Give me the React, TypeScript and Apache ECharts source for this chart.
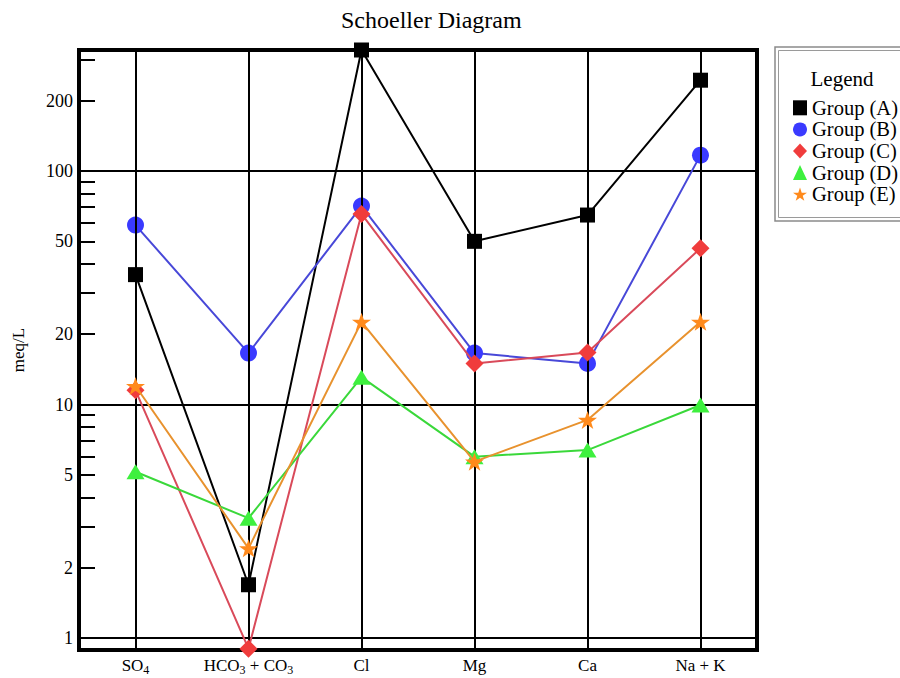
import React, { useEffect, useRef } from 'react';
import * as echarts from 'echarts';

const categories = ['SO4', 'HCO3 + CO3', 'Cl', 'Mg', 'Ca', 'Na + K'];
const seriesNames = ['Group (A)', 'Group (B)', 'Group (C)', 'Group (D)', 'Group (E)'];
const groupA = [36, 1.69, 330, 50, 64.8, 245];
const groupB = [58.7, 16.6, 70.8, 16.6, 15.0, 117];
const groupC = [11.5, 0.9, 65.5, 15.0, 16.7, 46.7];
const groupD = [5.15, 3.26, 13.1, 5.98, 6.38, 9.95];
const groupE = [12.0, 2.42, 22.6, 5.69, 8.59, 22.6];
const yLabelValues = [1, 2, 5, 10, 20, 50, 100, 200];
const yMinorTickValues = [2, 3, 4, 5, 6, 7, 8, 9, 20, 30, 40, 50, 60, 70, 80, 90, 200, 300];
const Y_MIN = 0.888;
const Y_MAX = 330;

const FONT = 'Liberation Serif';
const STAR = 'path://M50,0 L61.8,35.1 98.1,35.1 68.7,56.8 79.4,91 50,70 20.6,91 31.3,56.8 1.9,35.1 38.2,35.1 Z';

const styles = [
  { symbol: 'rect', size: 15, color: '#000000', line: '#000000' },
  { symbol: 'circle', size: 17, color: '#3a3aff', line: '#4848d8' },
  { symbol: 'diamond', size: 18, color: '#f03c3c', line: '#d94a5a' },
  { symbol: 'triangle', size: [18, 15], color: '#3ef03e', line: '#3ad83a' },
  { symbol: STAR, size: [19, 18], color: '#ff8a1c', line: '#e8922e' },
];
const groups = [groupA, groupB, groupC, groupD, groupE];

const richLabel = (v: string) =>
  v
    .split(/(\d+)/)
    .filter((s) => s)
    .map((s) => (/^\d+$/.test(s) ? `{s|${s}}` : `{n|${s}}`))
    .join('');

export default function App() {
  const ref = useRef<HTMLDivElement>(null);
  useEffect(() => {
    if (!ref.current) return;
    const chart = echarts.init(ref.current, undefined, { renderer: 'svg' });
    const lmin = Math.log10(Y_MIN);
    const lmax = Math.log10(Y_MAX);
    const option: any = {
      animation: false,
      backgroundColor: '#ffffff',
      title: {
        text: 'Schoeller Diagram',
        left: 341,
        top: 8,
        padding: 0,
        textStyle: { fontFamily: FONT, fontSize: 24, fontWeight: 'normal', color: '#000' },
      },
      grid: {
        left: 79,
        top: 50,
        width: 678,
        height: 600,
        show: true,
        borderColor: '#000',
        borderWidth: 4,
        backgroundColor: 'transparent',
      },
      legend: {
        orient: 'vertical',
        left: 793,
        top: 97,
        padding: 0,
        itemGap: 0,
        itemWidth: 14,
        itemHeight: 15,
        textStyle: { fontFamily: FONT, fontSize: 20.5, color: '#000', lineHeight: 21.6 },
        data: seriesNames.map((n, i) => ({ name: n, icon: styles[i].symbol })),
      },
      graphic: [
        { type: 'rect', shape: { x: 775, y: 47, width: 140, height: 174 }, style: { fill: 'none', stroke: '#8a8a8a', lineWidth: 1.5 } },
        { type: 'rect', shape: { x: 778.5, y: 50.5, width: 140, height: 167 }, style: { fill: 'none', stroke: '#9a9a9a', lineWidth: 1 } },
        {
          type: 'text',
          x: 842,
          y: 79,
          style: {
            text: 'Legend',
            fontFamily: FONT,
            fontSize: 21,
            fill: '#000',
            textAlign: 'center',
            textVerticalAlign: 'middle',
            align: 'center',
            verticalAlign: 'middle',
          },
        },
      ],
      xAxis: {
        type: 'category',
        data: categories,
        boundaryGap: true,
        axisLine: { show: false },
        axisTick: { show: false },
        splitLine: { show: false },
        axisLabel: {
          interval: 0,
          margin: 7,
          fontFamily: FONT,
          fontSize: 17,
          color: '#000',
          formatter: (v: string) => richLabel(v),
          rich: {
            n: { fontFamily: FONT, fontSize: 17, color: '#000', verticalAlign: 'top', lineHeight: 18 },
            s: { fontFamily: FONT, fontSize: 12, color: '#000', verticalAlign: 'top', lineHeight: 12, padding: [7, 0, 0, 0] },
          },
        },
      },
      yAxis: [
        {
          type: 'log',
          logBase: 10,
          min: Y_MIN,
          max: Y_MAX,
          position: 'left',
          axisLine: { show: false },
          axisTick: { show: false },
          axisLabel: { show: false },
          splitLine: { show: true, lineStyle: { color: '#000', width: 2 } },
        },
        {
          type: 'value',
          min: lmin,
          max: lmax,
          position: 'left',
          name: 'meq/L',
          nameLocation: 'middle',
          nameGap: 52,
          nameTextStyle: { fontFamily: FONT, fontSize: 17, color: '#000' },
          axisLine: { show: false },
          splitLine: { show: false },
          axisTick: {
            show: true,
            inside: true,
            length: 16,
            customValues: yMinorTickValues.map((v) => Math.log10(v)),
            lineStyle: { color: '#000', width: 2 },
          },
          axisLabel: {
            margin: 6,
            fontFamily: FONT,
            fontSize: 18,
            color: '#000',
            customValues: yLabelValues.map((v) => Math.log10(v)),
            formatter: (v: number) => String(Math.round(Math.pow(10, v))),
          },
        },
      ],
      series: [
        {
          type: 'line',
          name: '__grid',
          data: [],
          z: 1,
          silent: true,
          markLine: {
            silent: true,
            symbol: ['none', 'none'],
            label: { show: false },
            lineStyle: { color: '#000', width: 2, type: 'solid' },
            data: categories.map((c) => ({ xAxis: c })),
          },
        },
        ...groups.map((g, i) => ({
          type: 'line',
          name: seriesNames[i],
          data: g,
          yAxisIndex: 0,
          z: 3 + i,
          symbol: styles[i].symbol,
          symbolSize: styles[i].size,
          itemStyle: { color: styles[i].color },
          lineStyle: { color: styles[i].line, width: 2 },
        })),
      ],
    };
    chart.setOption(option);
    return () => chart.dispose();
  }, []);
  return (
    <div
      ref={ref}
      style={{ position: 'absolute', left: 0, top: 0, width: 900, height: 678, background: '#fff' }}
    />
  );
}
